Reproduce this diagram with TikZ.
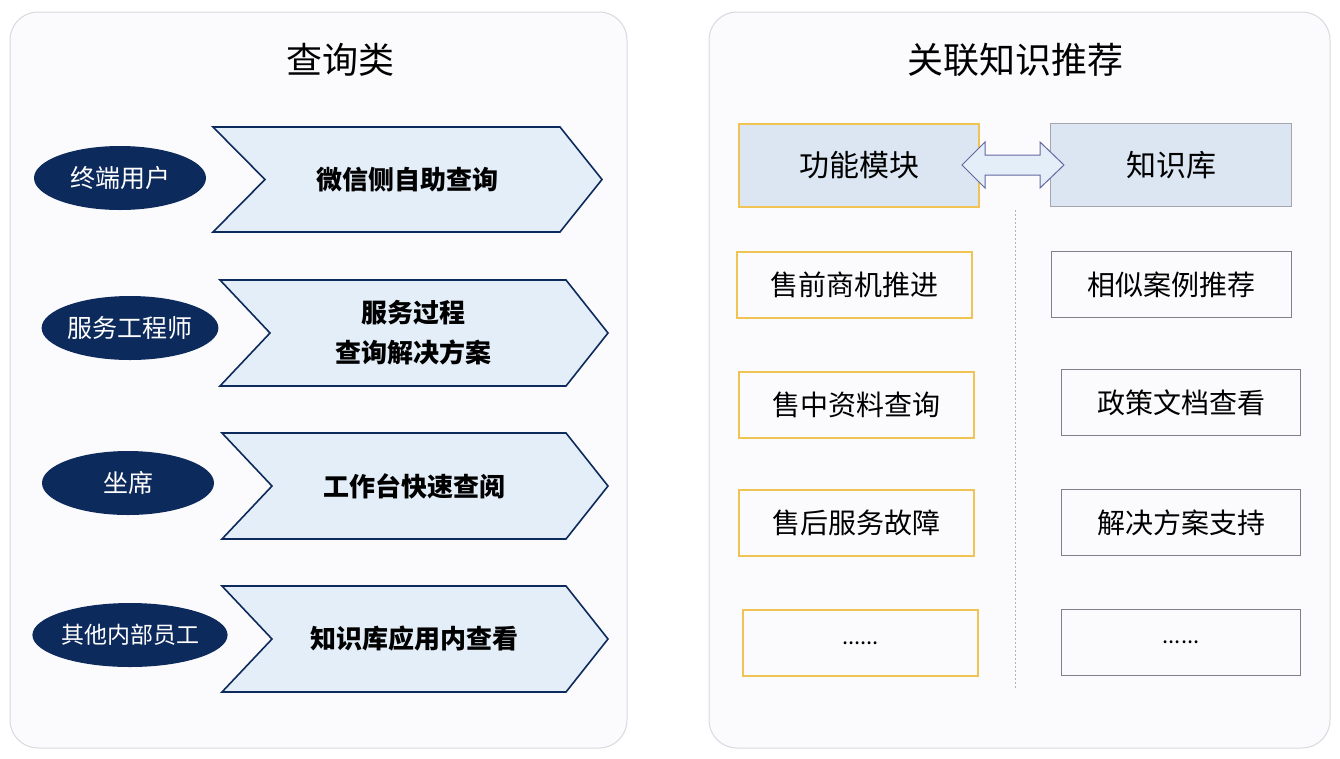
\documentclass[tikz,border=0pt]{standalone}
\usepackage{fontspec}
\setmainfont{Noto Sans CJK SC}
\usetikzlibrary{calc, shapes.geometric}
\definecolor{navy}{HTML}{0D2A5C}
\definecolor{chevfill}{HTML}{E4EEF9}
\definecolor{panelline}{HTML}{D6D9DF}
\definecolor{panelfill}{HTML}{FBFBFD}
\definecolor{goldline}{HTML}{F0C454}
\definecolor{grayline}{HTML}{7E808A}
\definecolor{headfill}{HTML}{DCE6F3}
\tikzset{
    panel/.style={draw=panelline, fill=panelfill, rounded corners=28pt, line width=1pt},
    title/.style={font=\fontsize{36}{42}\selectfont},
    role/.style={ellipse, fill=navy, text=white, minimum width=172pt, minimum height=64pt, inner sep=0pt, font=\fontsize{25}{30}\selectfont},
    chevron/.style={draw=navy, fill=chevfill, line width=1.6pt, line join=miter},
    chevtext/.style={font=\fontsize{26}{40}\selectfont\bfseries, align=center},
    goldbox/.style={draw=goldline, line width=2pt, minimum width=235pt, minimum height=66pt, font=\fontsize{28}{32}\selectfont, anchor=north west},
    graybox/.style={draw=grayline, line width=1pt, minimum width=240pt, minimum height=66pt, font=\fontsize{28}{32}\selectfont, anchor=north west},
}
\begin{document}
\begin{tikzpicture}[x=1pt, y=-1pt]
    \useasboundingbox (0,0) rectangle (1340,758);

    % panels
    \draw [panel] (10,12) rectangle (627,748);
    \draw [panel] (709,12) rectangle (1330,748);
    \node [title] (tq) at (340,60) {查询类};
    \node [title] (tr) at (1015,60) {关联知识推荐};

    % chevrons
    \foreach \l/\r/\t/\b/\n/\txt in {213/560/127/232/265/微信侧自助查询,
                                      220/566/280/386/270/{服务过程\\查询解决方案},
                                      222/566/433/539/272/工作台快速查阅,
                                      222/566/586/692/272/知识库应用内查看} {
        \draw [chevron] (\l,\t) -- (\r,\t) -- ({\r+42},{(\t+\b)/2}) -- (\r,\b) -- (\l,\b) -- (\n,{(\t+\b)/2}) -- cycle;
        \node [chevtext] at ({(\n+\r)/2-5},{(\t+\b)/2}) {\txt};
    }

    % roles
    \node [role] (user) at (120,178) {终端用户};
    \node [role] (eng) at (130,328) {服务工程师};
    \node [role] (seat) at (128,483) {坐席};
    \node [role, minimum width=178pt, font=\fontsize{23}{28}\selectfont] (staff) at (130,635) {其他内部员工};

    % heads
    \node [goldbox, fill=headfill, minimum width=240pt, minimum height=83pt, font=\fontsize{30}{34}\selectfont] (func) at (738,123) {功能模块};
    \node [graybox, fill=headfill, draw=grayline!70, minimum width=241pt, minimum height=83pt, font=\fontsize{30}{34}\selectfont] (kb) at (1050,123) {知识库};
    \draw [draw=grayline!80!blue, fill=chevfill, line width=1pt]
        (962,165) -- (985,142) -- (985,155) -- (1040,155) -- (1040,142) -- (1064,165)
        -- (1040,188) -- (1040,175) -- (985,175) -- (985,188) -- cycle;
    \draw [draw=grayline!60, dash pattern=on 2pt off 2pt] (1015,210) -- (1015,690);

    % modules
    \node [goldbox] (pre) at (736,251) {售前商机推进};
    \node [goldbox] (mid) at (738,371) {售中资料查询};
    \node [goldbox] (post) at (738,489) {售后服务故障};
    \node [goldbox, font=\fontsize{22}{26}\selectfont] (more) at (742,609) {......};
    \node [graybox] (case) at (1051,251) {相似案例推荐};
    \node [graybox, minimum width=239pt] (policy) at (1061,369) {政策文档查看};
    \node [graybox, minimum width=239pt] (sol) at (1061,489) {解决方案支持};
    \node [graybox, minimum width=239pt, font=\fontsize{22}{26}\selectfont] (etc) at (1061,609) {......};
\end{tikzpicture}
\end{document}
